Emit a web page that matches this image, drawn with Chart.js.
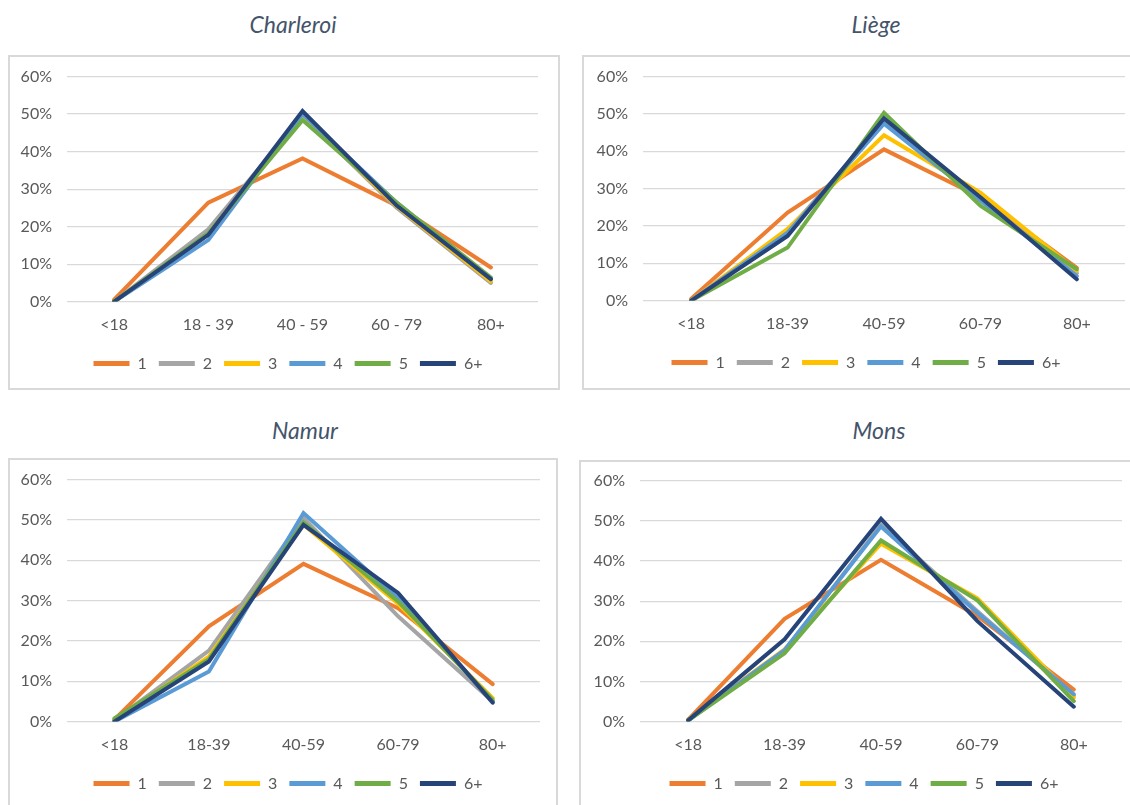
<!DOCTYPE html>
<html>
<head>
<meta charset="utf-8">
<script src="https://cdn.jsdelivr.net/npm/chart.js@4.4.1/dist/chart.umd.min.js"></script>
<style>
  html, body { margin: 0; padding: 0; background: #ffffff; }
  body { width: 1130px; height: 805px; overflow: hidden; position: relative; font-family: Lato, "Liberation Sans", sans-serif; }
  .title { position: absolute; font-style: italic; font-size: 23px; color: #44546A; transform: translate(-50%, -50%); white-space: nowrap; }
  .box { position: absolute; border: 2px solid #D9D9D9; box-sizing: border-box; background: #ffffff; }
  .box canvas { position: absolute; left: 0; top: 0; }
</style>
</head>
<body>

<div class="title" style="left:293px; top:24px;">Charleroi</div>
<div class="title" style="left:876px; top:24px;">Liège</div>
<div class="title" style="left:305px; top:430px;">Namur</div>
<div class="title" style="left:879px; top:430px;">Mons</div>

<div class="box" style="left:8px; top:55px; width:552px; height:335px;"><canvas id="chartCharleroi" width="548" height="331"></canvas></div>
<div class="box" style="left:582px; top:55px; width:567px; height:335px;"><canvas id="chartLiege" width="563" height="331"></canvas></div>
<div class="box" style="left:8px; top:458px; width:550px; height:355px;"><canvas id="chartNamur" width="546" height="351"></canvas></div>
<div class="box" style="left:579px; top:460px; width:568px; height:353px;"><canvas id="chartMons" width="564" height="349"></canvas></div>

<script>
// Age groups on the category axis
const ageGroupsCharleroi = ['<18', '18 - 39', '40 - 59', '60 - 79', '80+'];
const ageGroups = ['<18', '18-39', '40-59', '60-79', '80+'];

// Household size series (legend entries)
const householdSizes = ['1', '2', '3', '4', '5', '6+'];
const seriesColors = ['#ED7D31', '#A5A5A5', '#FFC000', '#5B9BD5', '#70AD47', '#264478'];

// Value axis labels, 0% to 60% in steps of 10
const yTickValues = [0, 10, 20, 30, 40, 50, 60];
const yTickLabels = ['0%', '10%', '20%', '30%', '40%', '50%', '60%'];

// Share of each age group (%) per household size, one row per series
const charleroi = [
  [0.5, 26.4, 38.2, 25.6, 9.1],
  [0.0, 19.3, 49.5, 25.0, 5.0],
  [0.0, 18.0, 49.6, 25.4, 5.4],
  [0.0, 16.4, 50.0, 26.4, 6.0],
  [0.0, 18.2, 48.4, 26.4, 6.4],
  [0.0, 17.8, 50.8, 25.6, 6.0]
];
const liege = [
  [0.5, 23.6, 40.5, 27.7, 8.8],
  [0.0, 18.6, 47.6, 27.2, 7.4],
  [0.0, 19.2, 44.3, 28.9, 8.0],
  [0.0, 18.2, 47.4, 26.8, 6.6],
  [0.0, 14.2, 50.3, 25.4, 8.4],
  [0.0, 17.3, 48.8, 27.7, 5.7]
];
const namur = [
  [0.5, 23.6, 39.1, 28.1, 9.3],
  [0.3, 17.6, 50.5, 26.1, 5.0],
  [0.3, 16.1, 48.8, 29.2, 5.8],
  [0.0, 12.4, 51.7, 30.6, 5.0],
  [0.8, 15.5, 49.4, 29.8, 5.4],
  [0.0, 14.9, 48.8, 31.9, 4.7]
];
const mons = [
  [0.5, 25.6, 40.3, 26.3, 8.0],
  [0.5, 17.5, 49.0, 27.5, 6.5],
  [0.5, 18.0, 44.3, 30.7, 6.0],
  [0.3, 17.8, 48.6, 27.1, 6.8],
  [0.3, 17.0, 45.1, 30.2, 5.1],
  [0.3, 20.5, 50.5, 25.0, 3.7]
];

const tickFont = { family: 'Lato', size: 16 };
const tickColor = '#595959';

// Re-centres the bottom legend on a chosen x position inside the canvas
const legendCenterPlugin = {
  id: 'legendCenter',
  beforeDraw(chart, args, opts) {
    const lg = chart.legend;
    if (!lg || opts.center == null) return;
    const w = lg.right - lg.left;
    lg.left = opts.center - w / 2;
    lg.right = opts.center + w / 2;
  }
};

function drawPanel(canvasId, labels, rows, plotRect, legendCenter) {
  const canvas = document.getElementById(canvasId);
  const datasets = householdSizes.map((name, i) => ({
    label: name,
    data: rows[i],
    borderColor: seriesColors[i],
    backgroundColor: seriesColors[i],
    borderWidth: 4,
    borderCapStyle: 'round',
    borderJoinStyle: 'miter',
    pointRadius: 0,
    pointHoverRadius: 0,
    tension: 0,
    fill: false,
    // later series are painted over earlier ones
    order: householdSizes.length - i
  }));

  const chart = new Chart(canvas, {
    type: 'line',
    data: { labels: labels, datasets: datasets },
    plugins: [legendCenterPlugin],
    options: {
      responsive: false,
      animation: false,
      devicePixelRatio: 1,
      layout: { padding: { top: plotRect.top, right: canvas.width - plotRect.right, bottom: 10, left: 0 } },
      plugins: {
        legendCenter: { center: legendCenter },
        legend: {
          position: 'bottom',
          labels: {
            usePointStyle: true,
            pointStyle: 'line',
            pointStyleWidth: 36,
            padding: 12,
            color: tickColor,
            font: tickFont,
            sort: (a, b) => a.datasetIndex - b.datasetIndex,
            generateLabels: (c) => Chart.defaults.plugins.legend.labels.generateLabels(c)
              .map(item => Object.assign(item, { lineWidth: 5 }))
          }
        },
        tooltip: { enabled: false }
      },
      scales: {
        x: {
          offset: true,
          grid: { display: false, drawTicks: false },
          border: { display: false },
          ticks: { color: tickColor, font: tickFont, padding: 14, maxRotation: 0 },
          afterFit: (s) => { s.height = 42; }
        },
        y: {
          min: 0,
          max: 60,
          grid: { color: '#D9D9D9', lineWidth: 1.2, drawTicks: false },
          border: { display: false },
          afterBuildTicks: (s) => { s.ticks = yTickValues.map(v => ({ value: v })); },
          ticks: {
            color: tickColor,
            font: tickFont,
            padding: 15,
            callback: (v) => yTickLabels[yTickValues.indexOf(v)]
          },
          afterFit: (s) => { s.width = plotRect.left; }
        }
      }
    }
  });

  // nudge the outer padding so the plotting area sits on the wanted rectangle
  const pad = chart.options.layout.padding;
  for (let k = 0; k < 3; k++) {
    const area = chart.chartArea;
    pad.top = Math.max(0, pad.top + plotRect.top - area.top);
    pad.right += area.right - plotRect.right;
    pad.bottom += area.bottom - plotRect.bottom;
    chart.update();
  }
  // if the top could not come down far enough, lift the whole canvas instead
  const lift = chart.chartArea.top - plotRect.top;
  if (lift > 0) {
    canvas.style.top = (-lift) + 'px';
    pad.bottom -= lift;
    chart.update();
  }
  return chart;
}

drawPanel('chartCharleroi', ageGroupsCharleroi, charleroi, { left: 57, right: 528, top: 20, bottom: 245 }, 278);
drawPanel('chartLiege', ageGroups, liege, { left: 59, right: 541, top: 20, bottom: 244 }, 282);
drawPanel('chartNamur', ageGroups, namur, { left: 57, right: 530, top: 20, bottom: 262 }, 278);
drawPanel('chartMons', ageGroups, mons, { left: 59, right: 541, top: 19, bottom: 260 }, 283);
</script>
</body>
</html>
